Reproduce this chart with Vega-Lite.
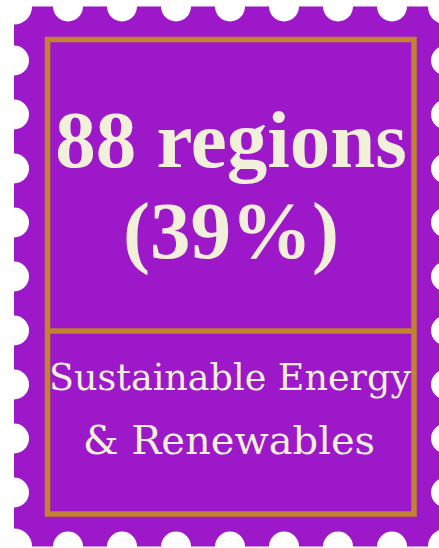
{
  "$schema": "https://vega.github.io/schema/vega-lite/v6.json",
  "width": 439,
  "height": 548,
  "autosize": "none",
  "padding": 0,
  "background": "white",
  "config": {"view": {"stroke": null}},
  "datasets": {
    "stamp": [{"x": 14, "x2": 446, "y": 6.5, "y2": 546.5}],
    "holes": [
      {"x": 68, "y": 6.5}, {"x": 122, "y": 6.5}, {"x": 176, "y": 6.5}, {"x": 230, "y": 6.5}, {"x": 284, "y": 6.5}, {"x": 338, "y": 6.5}, {"x": 392, "y": 6.5},
      {"x": 68, "y": 546.5}, {"x": 122, "y": 546.5}, {"x": 176, "y": 546.5}, {"x": 230, "y": 546.5}, {"x": 284, "y": 546.5}, {"x": 338, "y": 546.5}, {"x": 392, "y": 546.5},
      {"x": 14, "y": 60.5}, {"x": 14, "y": 114.5}, {"x": 14, "y": 168.5}, {"x": 14, "y": 222.5}, {"x": 14, "y": 276.5}, {"x": 14, "y": 330.5}, {"x": 14, "y": 384.5}, {"x": 14, "y": 438.5}, {"x": 14, "y": 492.5},
      {"x": 446, "y": 60.5}, {"x": 446, "y": 114.5}, {"x": 446, "y": 168.5}, {"x": 446, "y": 222.5}, {"x": 446, "y": 276.5}, {"x": 446, "y": 330.5}, {"x": 446, "y": 384.5}, {"x": 446, "y": 438.5}, {"x": 446, "y": 492.5}
    ],
    "corners": [{"x": 14, "y": 6.5}, {"x": 446, "y": 6.5}, {"x": 14, "y": 546.5}, {"x": 446, "y": 546.5}],
    "frame": [{"x": 47.5, "x2": 414, "y": 39.5, "y2": 514}],
    "divider": [{"x": 47.5, "x2": 414, "y": 331}],
    "big": [{"text": "88 regions", "x": 231, "y": 167}, {"text": "(39%)", "x": 231, "y": 258}],
    "small1": [{"text": "Sustainable Energy", "x": 230, "y": 390}],
    "small2": [{"text": "& Renewables", "x": 229, "y": 454}]
  },
  "layer": [
    {
      "data": {"name": "stamp"},
      "mark": {"type": "rect", "color": "#9D18C8"},
      "encoding": {
        "x": {"field": "x", "type": "quantitative", "scale": {"domain": [0, 439], "nice": false, "zero": false}, "axis": null},
        "x2": {"field": "x2"},
        "y": {"field": "y", "type": "quantitative", "scale": {"domain": [0, 548], "nice": false, "zero": false, "reverse": true}, "axis": null},
        "y2": {"field": "y2"}
      }
    },
    {
      "data": {"name": "holes"},
      "mark": {"type": "point", "shape": "circle", "filled": true, "color": "white", "opacity": 1, "size": 900},
      "encoding": {
        "x": {"field": "x", "type": "quantitative"},
        "y": {"field": "y", "type": "quantitative"}
      }
    },
    {
      "data": {"name": "corners"},
      "mark": {"type": "point", "shape": "circle", "filled": true, "color": "white", "opacity": 1, "size": 1300},
      "encoding": {
        "x": {"field": "x", "type": "quantitative"},
        "y": {"field": "y", "type": "quantitative"}
      }
    },
    {
      "data": {"name": "frame"},
      "mark": {"type": "rect", "fill": null, "fillOpacity": 0, "stroke": "#C1832F", "strokeWidth": 5.5},
      "encoding": {
        "x": {"field": "x", "type": "quantitative"},
        "x2": {"field": "x2"},
        "y": {"field": "y", "type": "quantitative"},
        "y2": {"field": "y2"}
      }
    },
    {
      "data": {"name": "divider"},
      "mark": {"type": "rule", "color": "#C1832F", "strokeWidth": 5.5},
      "encoding": {
        "x": {"field": "x", "type": "quantitative"},
        "x2": {"field": "x2"},
        "y": {"field": "y", "type": "quantitative"}
      }
    },
    {
      "data": {"name": "big"},
      "mark": {"type": "text", "font": "Liberation Serif", "fontWeight": "bold", "fontSize": 81, "color": "#F2EFDA", "align": "center", "baseline": "alphabetic"},
      "encoding": {
        "x": {"field": "x", "type": "quantitative"},
        "y": {"field": "y", "type": "quantitative"},
        "text": {"field": "text"}
      }
    },
    {
      "data": {"name": "small1"},
      "mark": {"type": "text", "font": "DejaVu Serif", "fontSize": 36.5, "color": "#F2EFDA", "align": "center", "baseline": "alphabetic"},
      "encoding": {
        "x": {"field": "x", "type": "quantitative"},
        "y": {"field": "y", "type": "quantitative"},
        "text": {"field": "text"}
      }
    },
    {
      "data": {"name": "small2"},
      "mark": {"type": "text", "font": "DejaVu Serif", "fontSize": 40, "color": "#F2EFDA", "align": "center", "baseline": "alphabetic"},
      "encoding": {
        "x": {"field": "x", "type": "quantitative"},
        "y": {"field": "y", "type": "quantitative"},
        "text": {"field": "text"}
      }
    }
  ]
}
